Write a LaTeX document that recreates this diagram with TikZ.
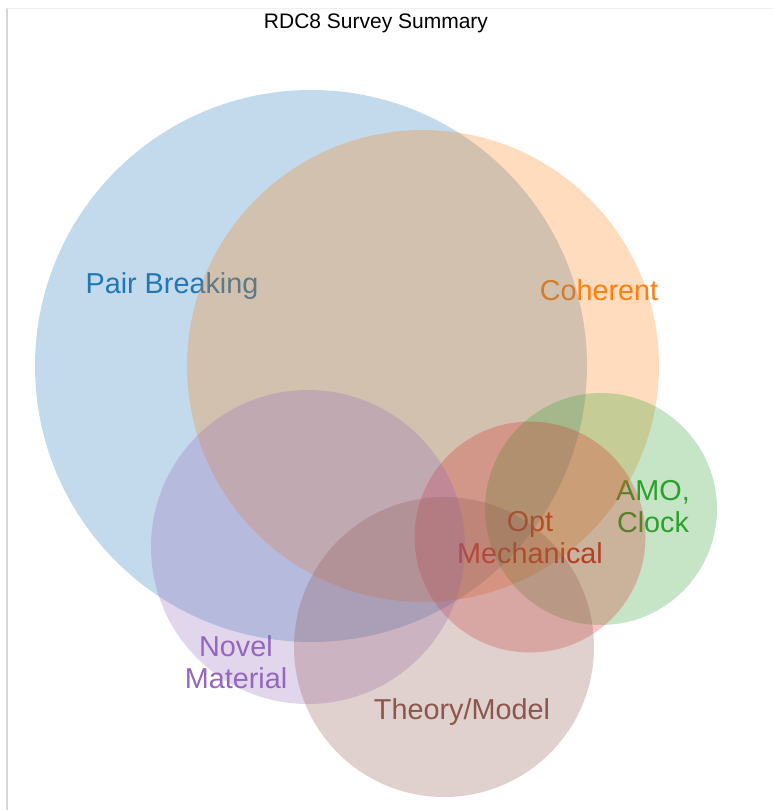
\documentclass[tikz,border=0pt]{standalone}
\usepackage{fontspec}
\setmainfont{Liberation Sans}
\usepackage{xcolor}
\usetikzlibrary{positioning}
\definecolor{setblue}{HTML}{1F77B4}
\definecolor{setorange}{HTML}{FF7F0E}
\definecolor{setgreen}{HTML}{2CA02C}
\definecolor{setred}{HTML}{D62728}
\definecolor{setpurple}{HTML}{9467BD}
\definecolor{setbrown}{HTML}{8C564B}
\definecolor{paneledge}{HTML}{D6D6D6}

\tikzset{
  setdisc/.style={circle, draw=none, inner sep=0pt, fill opacity=0.27},
  setlabel/.style={align=center, font=\fontsize{28.8}{32}\selectfont, inner sep=0pt}
}

\begin{document}
\begin{tikzpicture}[x=1pt, y=-1pt]
    \useasboundingbox (0,0) rectangle (773,810);
    % panel edge
    \coordinate (edgetop) at (7,8);
    \coordinate (edgebot) at (7,810);
    \coordinate (edgeright) at (773,8);
    \draw[paneledge, line width=1.5pt] (edgebot) -- (edgetop);
    \draw[paneledge!40, line width=0.8pt] (edgetop) -- (edgeright);
    \node[font=\fontsize{21}{25}\selectfont] (title) at (376,23) {RDC8 Survey Summary};
    % labels sit below the discs
    \node[setlabel, text=setblue] (lblpair) at (172,286) {Pair Breaking};
    \node[setlabel, text=setorange] (lblcoh) at (599,290) {Coherent};
    \node[setlabel, text=setgreen] (lblamo) at (653,507) {AMO,\\Clock};
    \node[setlabel, text=setred] (lblopt) at (530,538) {Opt\\Mechanical};
    \node[setlabel, text=setpurple] (lblnovel) at (236,662) {Novel\\Material};
    \node[setlabel, text=setbrown] (lbltheory) at (462,712) {Theory/Model};
    % the six sets
    \node[setdisc, fill=setblue, minimum size=552pt] (pairbreak) at (311,366) {};
    \node[setdisc, fill=setorange, minimum size=472pt] (coherent) at (423,366) {};
    \node[setdisc, fill=setgreen, minimum size=232pt] (amoclock) at (601,509) {};
    \node[setdisc, fill=setred, minimum size=231pt] (optmech) at (530,537) {};
    \node[setdisc, fill=setpurple, minimum size=314pt] (novelmat) at (308,547) {};
    \node[setdisc, fill=setbrown, minimum size=300pt] (theory) at (444,647) {};
\end{tikzpicture}
\end{document}
